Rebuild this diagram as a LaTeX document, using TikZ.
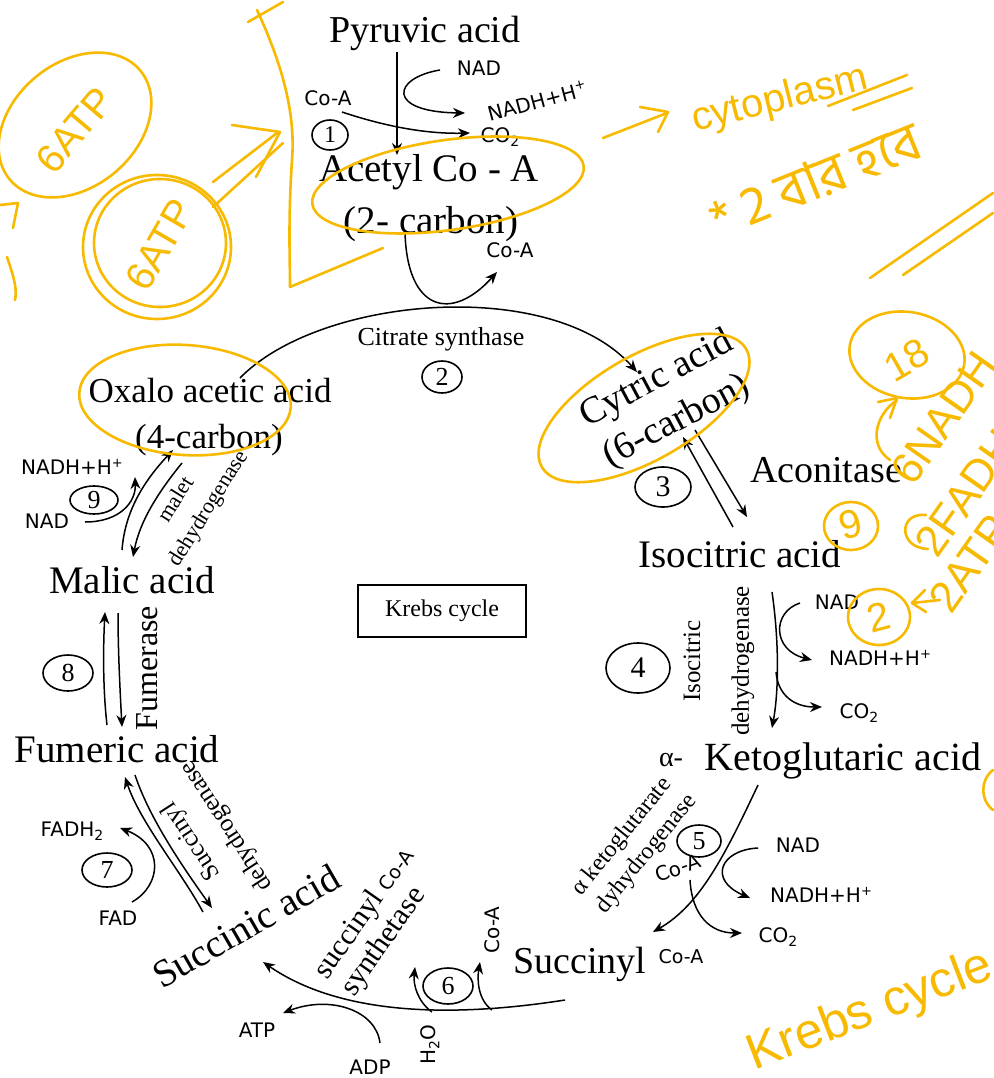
\documentclass[tikz,border=0pt]{standalone}
\usepackage{fontspec}
\setmainfont{Liberation Serif}
\newfontfamily\labfont{DejaVu Sans}
\newfontfamily\handfont{Liberation Sans}
\newfontfamily\bnfont[Script=Bengali]{Hind Siliguri}
\usetikzlibrary{arrows.meta,shapes.geometric}
\definecolor{handc}{RGB}{247,186,0}
\newcommand\fsz[1]{\fontsize{#1}{#1}\selectfont}
\newcommand\lsub[1]{\raisebox{-0.35ex}{\fontsize{14}{14}\selectfont #1}}
\newcommand\lsup[1]{\raisebox{0.7ex}{\fontsize{13}{13}\selectfont #1}}
\begin{document}
\begin{tikzpicture}[x=1pt,y=-1pt,
  big/.style={font=\fsz{39},inner sep=0,anchor=base},
  mid/.style={font=\fsz{25},inner sep=0},
  lab/.style={font=\labfont\fsz{20},inner sep=0},
  num/.style={draw,ellipse,line width=1.6pt,inner sep=0,font=\fsz{26}},
  arr/.style={-{Stealth[length=12pt,width=10pt]},line width=1.5pt},
  handln/.style={draw=handc,line width=2.6pt,line cap=round,line join=round},
  handtxt/.style={text=handc,font=\handfont\fsz{40},inner sep=0}]
\useasboundingbox (0,0) rectangle (993,1078);
\fill[white] (0,0) rectangle (993,1078);

% ---------- main labels ----------
\node[big,font=\fsz{38}] (pyr) at (425,43) {Pyruvic acid};
\node[big] (acetyl) at (429,182) {Acetyl Co - A};
\node[big] (acetylc) at (431,233) {(2- carbon)};
\node[font=\fsz{26},anchor=base,inner sep=0] (cs) at (441,345) {Citrate synthase};
\node[big,font=\fsz{35}] (oxa) at (210,402) {Oxalo acetic acid};
\node[big,font=\fsz{35}] (oxac) at (209,448) {(4-carbon)};
\node[font=\fsz{38},rotate=28,inner sep=0] (cit) at (657,380) {Cytric acid};
\node[font=\fsz{38},rotate=28,inner sep=0] (citc) at (677,422) {(6-carbon)};
\node[big,font=\fsz{38}] (acon) at (826,482) {Aconitase};
\node[big] (iso) at (740,567) {Isocitric acid};
\node[draw,line width=1.2pt,minimum width=168,minimum height=52,font=\fsz{24}] (krebs) at (442,611) {Krebs cycle};
\node[mid,rotate=90] (isoE1) at (692,661) {Isocitric};
\node[mid,rotate=90] (isoE2) at (743,661) {dehydrogenase};
\node[big,font=\fsz{40}] (keto) at (843,770) {Ketoglutaric acid};
\node[anchor=base,inner sep=0,font=\fsz{28}] (alpha) at (671,766) {α-};
\node[big,font=\fsz{38}] (sucoa) at (580,973) {Succinyl};
\node[lab,anchor=base,font=\labfont\fsz{19}] (sucoaC) at (681,963) {Co-A};
\node[font=\fsz{39},rotate=30,inner sep=0] (suac) at (246,926) {Succinic acid};
\node[font=\fsz{30},rotate=55,inner sep=0] (scs1) at (365,914) {succinyl {\labfont\fsz{19}Co-A}};
\node[font=\fsz{30},rotate=55,inner sep=0] (scs2) at (384,942) {synthetase};
\node[big] (mal) at (132,593) {Malic acid};
\node[big] (fum) at (117,762) {Fumeric acid};
\node[font=\fsz{32},rotate=90,inner sep=0] (fumE) at (147,668) {Fumerase};
\node[mid,rotate=123] (sdh1) at (192,841) {Succinyl};
\node[mid,rotate=123] (sdh2) at (227,826) {dehydrogenase};
\node[font=\fsz{22},rotate=58,inner sep=0] (mdh1) at (175,499) {malet};
\node[font=\fsz{22},rotate=58,inner sep=0] (mdh2) at (209,509) {dehydrogenase};
\node[font=\fsz{24},rotate=51,inner sep=0] (akd1) at (622,837) {α ketoglutarate};
\node[font=\fsz{24},rotate=51,inner sep=0] (akd2) at (647,854) {dyhydrogenase};

% ---------- small labels ----------
\node[lab] (nad1) at (479,68) {NAD};
\node[lab,rotate=15] (nadh1) at (537,101) {NADH+H\lsup{+}};
\node[lab] (coa1) at (328,98) {Co-A};
\node[lab] (co21) at (500,137) {CO\lsub{2}};
\node[lab] (coa2) at (510,250) {Co-A};
\node[lab] (nad4) at (837,602) {NAD};
\node[lab] (nadh4) at (880,658) {NADH+H\lsup{+}};
\node[lab] (co24) at (859,713) {CO\lsub{2}};
\node[lab] (nad5) at (798,845) {NAD};
\node[lab] (nadh5) at (821,895) {NADH+H\lsup{+}};
\node[lab,rotate=20] (coa5) at (678,868) {Co-A};
\node[lab] (co25) at (778,937) {CO\lsub{2}};
\node[lab,rotate=90] (coa6) at (492,930) {Co-A};
\node[lab,rotate=90] (h2o) at (430,1045) {H\lsub{2}O};
\node[lab] (atp) at (257,1030) {ATP};
\node[lab] (adp) at (370,1067) {ADP};
\node[lab] (fadh2) at (72,831) {FADH\lsub{2}};
\node[lab] (fad) at (118,918) {FAD};
\node[lab] (nadh9) at (72,467) {NADH+H\lsup{+}};
\node[lab] (nad9) at (47,521) {NAD};

% ---------- step numbers ----------
\node[num,minimum width=36,minimum height=30,font=\fsz{24}] (n1) at (330,135) {1};
\node[num,minimum width=40,minimum height=32] (n2) at (442,377) {2};
\node[num,minimum width=56,minimum height=40,font=\fsz{30}] (n3) at (663,487) {3};
\node[num,minimum width=64,minimum height=50,font=\fsz{30}] (n4) at (638,668) {4};
\node[num,minimum width=44,minimum height=32] (n5) at (699,841) {5};
\node[num,minimum width=50,minimum height=36] (n6) at (448,986) {6};
\node[num,minimum width=50,minimum height=34] (n7) at (107,870) {7};
\node[num,minimum width=50,minimum height=36] (n8) at (68,673) {8};
\node[num,minimum width=48,minimum height=28] (n9) at (94,500) {9};

% ---------- connector end points ----------
\coordinate (p1a) at (397,52);   \coordinate (p1b) at (397,155);
\coordinate (p2a) at (440,70);   \coordinate (p2b) at (465,113);
\coordinate (p3a) at (342,112);  \coordinate (p3b) at (470,133);
\coordinate (p4a) at (405,232);  \coordinate (p4b) at (497,272);
\coordinate (c0a) at (240,378);  \coordinate (c0b) at (637,372);
\coordinate (c3a) at (733,527);  \coordinate (c3b) at (683,437);
\coordinate (c3c) at (695,430);  \coordinate (c3d) at (747,517);
\coordinate (c4a) at (772,592);  \coordinate (c4b) at (772,728);
\coordinate (c4c) at (800,603);  \coordinate (c4d) at (812,660);
\coordinate (c4e) at (776,672);  \coordinate (c4f) at (822,707);
\coordinate (c5a) at (758,785);  \coordinate (c5b) at (653,932);
\coordinate (c5c) at (758,848);  \coordinate (c5d) at (750,898);
\coordinate (c5e) at (690,880);  \coordinate (c5f) at (742,933);
\coordinate (c6a) at (565,1000); \coordinate (c6b) at (263,962);
\coordinate (c6c) at (432,1012); \coordinate (c6d) at (415,967);
\coordinate (c6e) at (492,1010); \coordinate (c6f) at (480,962);
\coordinate (c6g) at (380,1043); \coordinate (c6h) at (283,1013);
\coordinate (c7a) at (203,912);  \coordinate (c7b) at (125,777);
\coordinate (c7c) at (135,775);  \coordinate (c7d) at (212,908);
\coordinate (c7e) at (132,902);  \coordinate (c7f) at (120,828);
\coordinate (c8a) at (107,725);  \coordinate (c8b) at (105,612);
\coordinate (c8c) at (118,613);  \coordinate (c8d) at (122,727);
\coordinate (c9a) at (122,550);  \coordinate (c9b) at (173,450);
\coordinate (c9c) at (182,463);  \coordinate (c9d) at (133,557);
\coordinate (c9e) at (85,522);   \coordinate (c9f) at (135,477);

% ---------- connectors ----------
\draw[arr] (p1a) -- (p1b);
\draw[arr] (p2a) .. controls (392,78) and (386,112) .. (p2b);
\draw[arr] (p3a) .. controls (390,128) and (430,134) .. (p3b);
\draw[arr] (p4a) .. controls (407,312) and (452,322) .. (p4b);
\draw[arr] (c0a) .. controls (320,296) and (552,276) .. (c0b);
\draw[arr] (c3a) -- (c3b);
\draw[arr] (c3c) -- (c3d);
\draw[arr] (c4a) .. controls (779,640) and (779,690) .. (c4b);
\draw[arr] (c4c) .. controls (772,612) and (772,650) .. (c4d);
\draw[arr] (c4e) .. controls (778,696) and (795,707) .. (c4f);
\draw[arr] (c5a) .. controls (725,855) and (700,905) .. (c5b);
\draw[arr] (c5c) .. controls (720,850) and (708,880) .. (c5d);
\draw[arr] (c5e) .. controls (692,915) and (710,933) .. (c5f);
\draw[arr] (c6a) .. controls (450,1018) and (340,1015) .. (c6b);
\draw[arr] (c6c) .. controls (418,1002) and (413,985) .. (c6d);
\draw[arr] (c6e) .. controls (478,1000) and (477,980) .. (c6f);
\draw[arr] (c6g) .. controls (376,1010) and (330,995) .. (c6h);
\draw[arr] (c7a) .. controls (180,870) and (140,822) .. (c7b);
\draw[arr] (c7c) .. controls (150,820) and (185,870) .. (c7d);
\draw[arr] (c7e) .. controls (162,885) and (164,845) .. (c7f);
\draw[arr] (c8a) .. controls (103,690) and (103,650) .. (c8b);
\draw[arr] (c8c) .. controls (118,650) and (120,690) .. (c8d);
\draw[arr] (c9a) .. controls (125,510) and (145,480) .. (c9b);
\draw[arr] (c9c) .. controls (160,490) and (140,520) .. (c9d);
\draw[arr] (c9e) .. controls (120,522) and (136,502) .. (c9f);

% ---------- handwritten annotations ----------
\draw[handln,rotate around={8:(448,185)}] (448,185) ellipse [x radius=137,y radius=45];
\draw[handln,rotate around={-4:(185,400)}] (185,400) ellipse [x radius=106,y radius=55];
\draw[handln,rotate around={30:(644,408)}] (644,408) ellipse [x radius=118,y radius=52];
\draw[handln,rotate around={40:(75,125)}] (75,125) ellipse [x radius=85,y radius=62];
\node[handtxt,rotate=50] (atp6a) at (75,130) {6ATP};
\draw[handln] (157,247) ellipse [x radius=74,y radius=72];
\draw[handln] (160,243) ellipse [x radius=66,y radius=64];
\node[handtxt,rotate=60] (atp6b) at (160,245) {6ATP};
\draw[handln] (213,207) -- (283,143);
\draw[handln] (213,182) -- (277,133);
\draw[handln] (232,125) -- (280,132) -- (256,177);
\draw[handln] (257,10) .. controls (280,60) and (296,110) .. (292,160) .. controls (288,220) and (290,260) .. (290,287) -- (383,248);
\draw[handln] (248,22) -- (283,2);
\draw[handln] (0,205) -- (18,203) -- (13,228);
\draw[handln] (7,257) .. controls (15,280) and (17,290) .. (15,300);
% cytoplasm
\draw[handln] (603,138) -- (667,113);
\draw[handln] (640,107) -- (668,112) -- (658,132);
\node[handtxt,rotate=14] (cyto) at (780,100) {cytoplasm};
\draw[handln] (828,106) -- (907,75);
\draw[handln] (853,110) -- (912,88);
\node[text=handc,font=\bnfont\fsz{54},rotate=22,inner sep=0] (bn) at (815,180) {* 2 বার হবে};
\draw[handln] (870,278) -- (993,193);
\draw[handln] (903,275) -- (993,213);
% 18 etc.
\draw[handln,rotate around={-10:(907,355)}] (907,355) ellipse [x radius=58,y radius=43];
\node[handtxt,rotate=30] (n18) at (907,360) {18};
\draw[handln] (890,460) .. controls (868,445) and (875,415) .. (897,400);
\draw[handln] (878,402) -- (897,398) -- (890,418);
\node[handtxt,rotate=55,anchor=south west,font=\handfont\fsz{44}] (nadh6) at (914,488) {6NADH};
\draw[handln] (851,526) ellipse [x radius=27,y radius=24];
\node[handtxt,rotate=15] (n9h) at (851,524) {9};
\draw[handln] (926,515) .. controls (898,512) and (898,548) .. (928,549);
\node[handtxt,rotate=55,anchor=south west,font=\handfont\fsz{44}] (fadh) at (938,560) {2FADH};
\draw[handln] (879,617) ellipse [x radius=31,y radius=28];
\node[handtxt,rotate=15] (n2h) at (879,617) {2};
\draw[handln] (940,600) -- (912,603);
\draw[handln] (925,590) -- (912,603) -- (926,612);
\node[handtxt,rotate=55,anchor=south west,font=\handfont\fsz{44}] (atph) at (952,616) {2ATP};
\draw[handln] (993,770) .. controls (980,780) and (980,800) .. (993,810);
\node[handtxt,rotate=21,anchor=south west,font=\handfont\fsz{50}] (krebsh) at (758,1080) {Krebs cycle};
\end{tikzpicture}
\end{document}
